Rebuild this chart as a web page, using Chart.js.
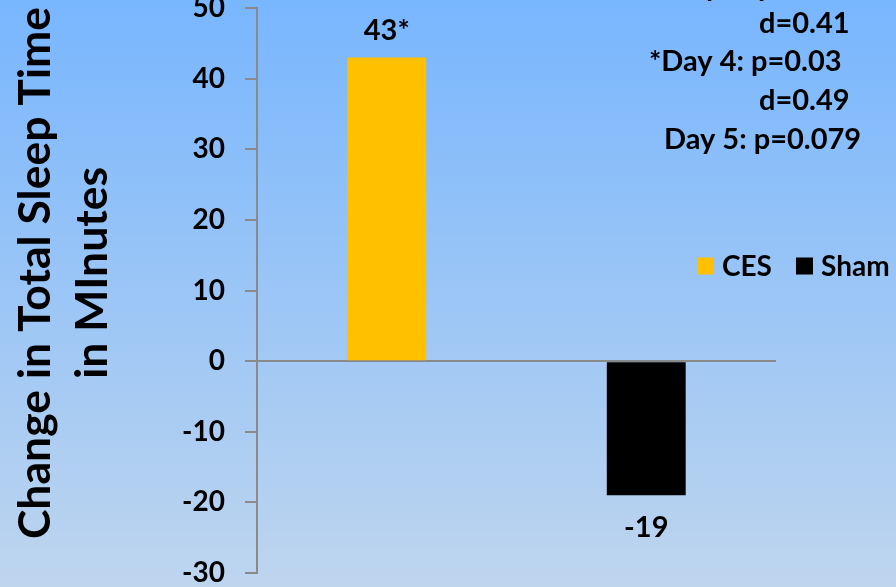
<!DOCTYPE html>
<html>
<head>
<meta charset="utf-8">
<script src="https://cdn.jsdelivr.net/npm/chart.js@4.4.1/dist/chart.umd.min.js"></script>
<style>
  html, body { margin: 0; padding: 0; width: 896px; height: 587px; overflow: hidden;
    background: linear-gradient(#78b6fe, #bed5ee); }
  #wrap { position: relative; width: 896px; height: 587px; }
</style>
</head>
<body>
<div id="wrap"><canvas id="c"></canvas></div>
<script>
// Groups and their mean change in total sleep time (minutes)
const groups = ['CES', 'Sham'];
const changeMinutes = [43, -19];
const sigMarks = ['*', ''];
const barColors = ['#FFC000', '#000000'];

// Y axis range and step
const yMin = -30, yMax = 50, yStep = 10;

// Statistics notes in the upper right
const statLines = [
  { text: '*Day 3: p=0.04', x: 656, y: -13 },
  { text: 'd=0.41',          x: 759, y: 24 },
  { text: '*Day 4: p=0.03', x: 649, y: 62 },
  { text: 'd=0.49',          x: 759, y: 101 },
  { text: 'Day 5: p=0.079', x: 664, y: 140 }
];

const FONT = 'Lato, "Open Sans", sans-serif';

// One dataset per group; each only fills its own category
const datasets = groups.map((g, i) => ({
  label: g,
  data: groups.map((_, j) => (j === i ? changeMinutes[i] : null)),
  backgroundColor: barColors[i],
  borderWidth: 0,
  barPercentage: 0.304,
  categoryPercentage: 1.0
}));

const background = {
  id: 'background',
  beforeDraw(chart) {
    const { ctx, width, height } = chart;
    const g = ctx.createLinearGradient(0, 0, 0, height);
    g.addColorStop(0, '#78b6fe');
    g.addColorStop(1, '#bed5ee');
    ctx.save();
    ctx.fillStyle = g;
    ctx.fillRect(0, 0, width, height);
    ctx.restore();
  }
};

const decorations = {
  id: 'decorations',
  afterDraw(chart) {
    const { ctx } = chart;
    const yScale = chart.scales.y;
    ctx.save();
    ctx.fillStyle = '#000';

    // value labels above / below each bar
    ctx.font = 'bold 29px ' + FONT;
    ctx.textAlign = 'center';
    ctx.textBaseline = 'middle';
    chart.data.datasets.forEach((ds, i) => {
      const meta = chart.getDatasetMeta(i);
      const bar = meta.data[i];
      const v = changeMinutes[i];
      const y = v >= 0 ? yScale.getPixelForValue(v) - 27 : yScale.getPixelForValue(v) + 32;
      ctx.fillText(String(v) + sigMarks[i], bar.x, y);
    });

    // legend
    ctx.font = 'bold 28px ' + FONT;
    ctx.textAlign = 'left';
    const legendY = 266;
    let lx = 697;
    groups.forEach((g, i) => {
      ctx.fillStyle = barColors[i];
      ctx.fillRect(lx, legendY - 8.5, 17, 17);
      ctx.fillStyle = '#000';
      ctx.fillText(g, lx + 25, legendY + 1);
      lx += 25 + ctx.measureText(g).width + 24;
    });

    // statistics notes
    ctx.font = 'bold 29px ' + FONT;
    statLines.forEach(l => ctx.fillText(l.text, l.x, l.y));

    // y axis title, two lines
    ctx.font = 'bold 44.5px ' + FONT;
    ctx.textAlign = 'center';
    ctx.textBaseline = 'alphabetic';
    ctx.translate(0, 273);
    ctx.rotate(-Math.PI / 2);
    ctx.fillText('Change in Total Sleep Time', 0, 50);
    ctx.fillText('in MInutes', 0, 107);
    ctx.restore();
  }
};

new Chart(document.getElementById('c'), {
  type: 'bar',
  data: { labels: groups, datasets },
  options: {
    responsive: true,
    maintainAspectRatio: false,
    animation: false,
    skipNull: true,
    layout: { padding: { top: 8, bottom: 14, right: 120, left: 0 } },
    plugins: { legend: { display: false }, tooltip: { enabled: false } },
    scales: {
      x: { display: false },
      y: {
        min: yMin, max: yMax,
        afterFit(s) { s.width = 257; s.paddingTop = 0; s.paddingBottom = 0; },
        ticks: {
          stepSize: yStep,
          color: '#000',
          padding: 20,
          font: { family: FONT, size: 28, weight: 'bold' }
        },
        grid: {
          color: c => (c.tick && c.tick.value === 0 ? '#8a8a8a' : 'rgba(0,0,0,0)'),
          tickColor: '#8a8a8a',
          tickLength: 12,
          lineWidth: 2
        },
        border: { color: '#8a8a8a', width: 2 }
      }
    }
  },
  plugins: [background, decorations]
});
</script>
</body>
</html>
